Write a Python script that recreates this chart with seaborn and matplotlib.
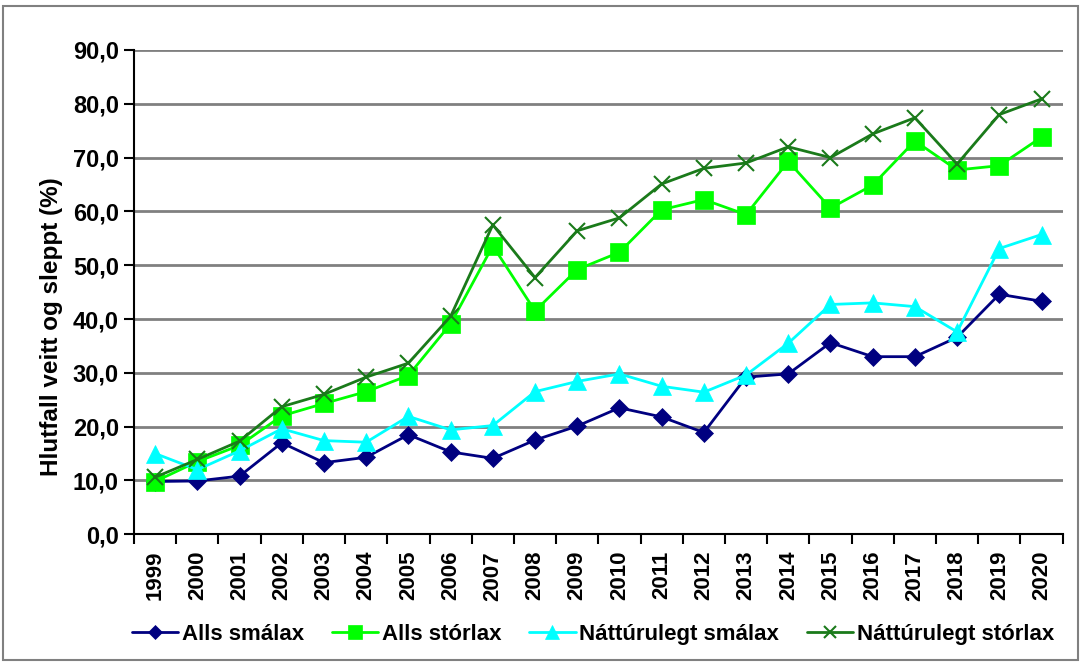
import numpy as np
import pandas as pd
import matplotlib
matplotlib.use("Agg")
import matplotlib.pyplot as plt
from matplotlib.patches import Rectangle
import seaborn as sns

# --- data ---
years = list(range(1999, 2021))
alls_smalax = [9.8, 9.9, 10.8, 17.0, 13.3, 14.3, 18.5, 15.3, 14.1, 17.5, 20.1,
               23.5, 21.8, 18.9, 29.2, 29.8, 35.6, 33.0, 33.0, 36.6, 44.6, 43.3]
alls_storlax = [9.8, 13.5, 16.5, 22.0, 24.3, 26.5, 29.5, 39.1, 53.6, 41.5, 49.2,
                52.4, 60.3, 62.2, 59.4, 69.3, 60.6, 64.9, 73.1, 67.7, 68.5, 73.8]
natt_smalax = [15.0, 12.0, 15.5, 19.6, 17.4, 17.1, 21.9, 19.4, 20.2, 26.5, 28.4,
               29.8, 27.5, 26.4, 29.6, 35.5, 42.7, 43.0, 42.3, 37.6, 53.1, 55.7]
natt_storlax = [10.6, 13.9, 17.3, 23.7, 26.0, 29.2, 31.8, 40.5, 57.5, 47.7, 56.4,
                58.8, 65.1, 68.0, 69.0, 72.0, 70.0, 74.4, 77.4, 68.8, 78.0, 80.9]
series_names = ["Alls smálax", "Alls stórlax", "Náttúrulegt smálax", "Náttúrulegt stórlax"]
y_ticks = [0, 10, 20, 30, 40, 50, 60, 70, 80, 90]

df = pd.DataFrame({"x": np.arange(len(years)),
                   series_names[0]: alls_smalax,
                   series_names[1]: alls_storlax,
                   series_names[2]: natt_smalax,
                   series_names[3]: natt_storlax})
long_df = df.melt(id_vars="x", var_name="series", value_name="val")

sns.set_theme(style="white")
plt.rcParams["font.family"] = ["Liberation Sans", "DejaVu Sans"]
plt.rcParams["font.weight"] = "bold"
for key in ["text.color", "axes.labelcolor", "xtick.color", "ytick.color"]:
    plt.rcParams[key] = "black"

colors = {series_names[0]: "#000080", series_names[1]: "#00ff00",
          series_names[2]: "#00ffff", series_names[3]: "#1a7a1a"}
markers = {series_names[0]: "D", series_names[1]: "s",
           series_names[2]: "^", series_names[3]: "x"}
msizes = {series_names[0]: 9, series_names[1]: 13, series_names[2]: 13, series_names[3]: 11}

fig = plt.figure(figsize=(10.81, 6.62), dpi=100)
ax = fig.add_axes([0.124, 0.193, 0.859, 0.7315])

for name in series_names:
    sub = long_df[long_df["series"] == name]
    sns.lineplot(data=sub, x="x", y="val", ax=ax, color=colors[name],
                 marker=markers[name], markersize=msizes[name],
                 markeredgecolor=colors[name],
                 markeredgewidth=1.5 if name == series_names[3] else 0.5,
                 linewidth=2, label=name)

ax.set_xlim(-0.5, len(years) - 0.5)
ax.set_ylim(0, 90)
ax.set_yticks(y_ticks)
ax.set_yticklabels([f"{v:.1f}".replace(".", ",") for v in y_ticks], fontsize=17, fontweight="bold")
ax.yaxis.grid(True, color="#808080", linewidth=2)
ax.set_axisbelow(True)

ax.set_xticks(np.arange(len(years)))
ax.set_xticklabels([str(y) for y in years], rotation=90, fontsize=16, fontweight="bold")
ax.set_xticks(np.arange(len(years) + 1) - 0.5, minor=True)
ax.tick_params(axis="x", which="major", length=0, pad=12)
ax.tick_params(axis="x", which="minor", length=7, width=1.5, color="black", bottom=True)
ax.tick_params(axis="y", length=7, width=1.5, color="black", left=True, pad=4)

ax.set_xlabel("")
ax.set_ylabel("Hlutfall veitt og sleppt (%)", fontsize=17.5, fontweight="bold")
ax.yaxis.set_label_coords(-0.077, 0.428)

for side in ["top", "right"]:
    ax.spines[side].set_visible(False)
for side in ["left", "bottom"]:
    ax.spines[side].set_color("black")
    ax.spines[side].set_linewidth(1.5)

leg = ax.legend(loc="center", bbox_to_anchor=(0.494, -0.207), ncol=4, frameon=False,
                prop={"weight": "bold", "size": 16}, markerscale=0.8,
                handlelength=2.1, columnspacing=1.25, handletextpad=0.15)

fig.patches.append(Rectangle((0.003, 0.003), 0.994, 0.988, transform=fig.transFigure,
                             fill=False, edgecolor="#808080", linewidth=1.5))

fig.savefig("out.png", dpi=100)
